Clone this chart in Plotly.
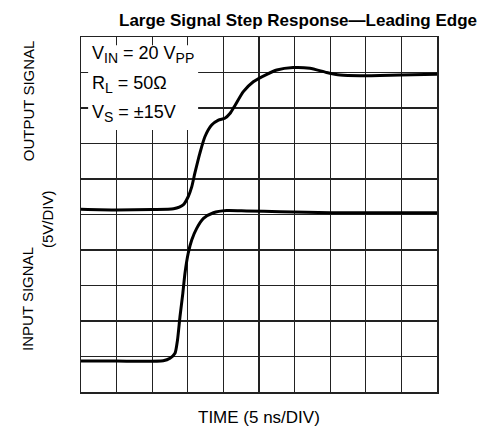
import plotly.graph_objects as go

# Time axis in divisions (5 ns/DIV), signal in divisions (5 V/DIV)
out_t = [0, 1.0, 2.0, 2.6, 2.87, 3.01, 3.11, 3.2, 3.34, 3.48, 3.67, 3.86, 4.04, 4.19, 4.33,
         4.56, 4.84, 5.22, 5.5, 5.96, 6.43, 6.9, 7.28, 7.84, 8.96, 10.0]
out_v = [5.15, 5.13, 5.14, 5.16, 5.27, 5.5, 5.78, 6.17, 6.73, 7.19, 7.52, 7.66, 7.71, 7.85, 8.08,
         8.46, 8.74, 8.95, 9.07, 9.14, 9.12, 9.0, 8.93, 8.91, 8.93, 8.95]

in_t = [0, 1.0, 2.31, 2.5, 2.64, 2.71, 2.78, 2.86, 2.92, 3.01, 3.11, 3.25, 3.44, 3.72, 4.09,
        4.65, 5.59, 7.0, 10.0]
in_v = [0.87, 0.87, 0.88, 0.95, 1.09, 1.46, 2.12, 2.78, 3.34, 3.9, 4.28, 4.61, 4.89, 5.05, 5.11,
        5.1, 5.08, 5.05, 5.05]

title = "Large Signal Step Response\u2014Leading Edge"
SUB = '<sub><span style="font-size:14px">{}</span></sub>'
cond_lines = ["V" + SUB.format("IN") + " = 20 V" + SUB.format("PP"),
              "R" + SUB.format("L") + " = 50\u03a9",
              "V" + SUB.format("S") + " = \u00b115V"]
x_title = "TIME (5 ns/DIV)"
y_titles = ["OUTPUT SIGNAL", "(5V/DIV)", "INPUT SIGNAL"]

FONT = "Liberation Sans, Arial, sans-serif"

fig = go.Figure()
fig.add_trace(go.Scatter(x=out_t, y=out_v, mode="lines",
                         line=dict(color="black", width=3, shape="spline", smoothing=0.6),
                         hoverinfo="skip", showlegend=False))
fig.add_trace(go.Scatter(x=in_t, y=in_v, mode="lines",
                         line=dict(color="black", width=3, shape="spline", smoothing=0.6),
                         hoverinfo="skip", showlegend=False))

# white box behind the test conditions
fig.add_shape(type="rect", xref="x", yref="y", x0=0.2, x1=3.29, y0=7.38, y1=9.77,
              fillcolor="white", line=dict(width=0), layer="between")

cond_y = [9.50, 8.66, 7.84]
for txt, yy in zip(cond_lines, cond_y):
    fig.add_annotation(x=0.24, y=yy, xref="x", yref="y", text=txt, showarrow=False,
                       xanchor="left", yanchor="middle",
                       font=dict(family=FONT, size=18, color="black"))

fig.add_annotation(x=0.6096, y=1.0465, xref="paper", yref="paper", text="<b>" + title + "</b>",
                   showarrow=False, xanchor="center", yanchor="middle",
                   font=dict(family=FONT, size=17, color="black"))
fig.add_annotation(x=0.5, y=-0.072, xref="paper", yref="paper", text=x_title,
                   showarrow=False, xanchor="center", yanchor="middle",
                   font=dict(family=FONT, size=17, color="black"))
for txt, xx, yy in zip(y_titles, [-0.149, -0.0955, -0.149], [0.822, 0.487, 0.262]):
    fig.add_annotation(x=xx, y=yy, xref="paper", yref="paper", text=txt, textangle=-90,
                       showarrow=False, xanchor="center", yanchor="middle",
                       font=dict(family=FONT, size=15, color="black"))

axis_common = dict(range=[0, 10], dtick=1, tick0=0, showgrid=True, gridcolor="#222",
                   gridwidth=1.2, showticklabels=False, ticks="", zeroline=False,
                   showline=True, linecolor="#222", linewidth=1.5, mirror=True, fixedrange=True)
fig.update_xaxes(**axis_common)
fig.update_yaxes(**axis_common)

fig.update_layout(width=491, height=430, margin=dict(l=81, r=54, t=37, b=38),
                  plot_bgcolor="white", paper_bgcolor="white", showlegend=False)

# remove the default 8px page margin so the figure fills the 491x430 window exactly
fig.write_html("out.html", config={"displayModeBar": False, "staticPlot": True},
               post_script="document.body.style.margin='0';document.body.style.overflow='hidden';")
